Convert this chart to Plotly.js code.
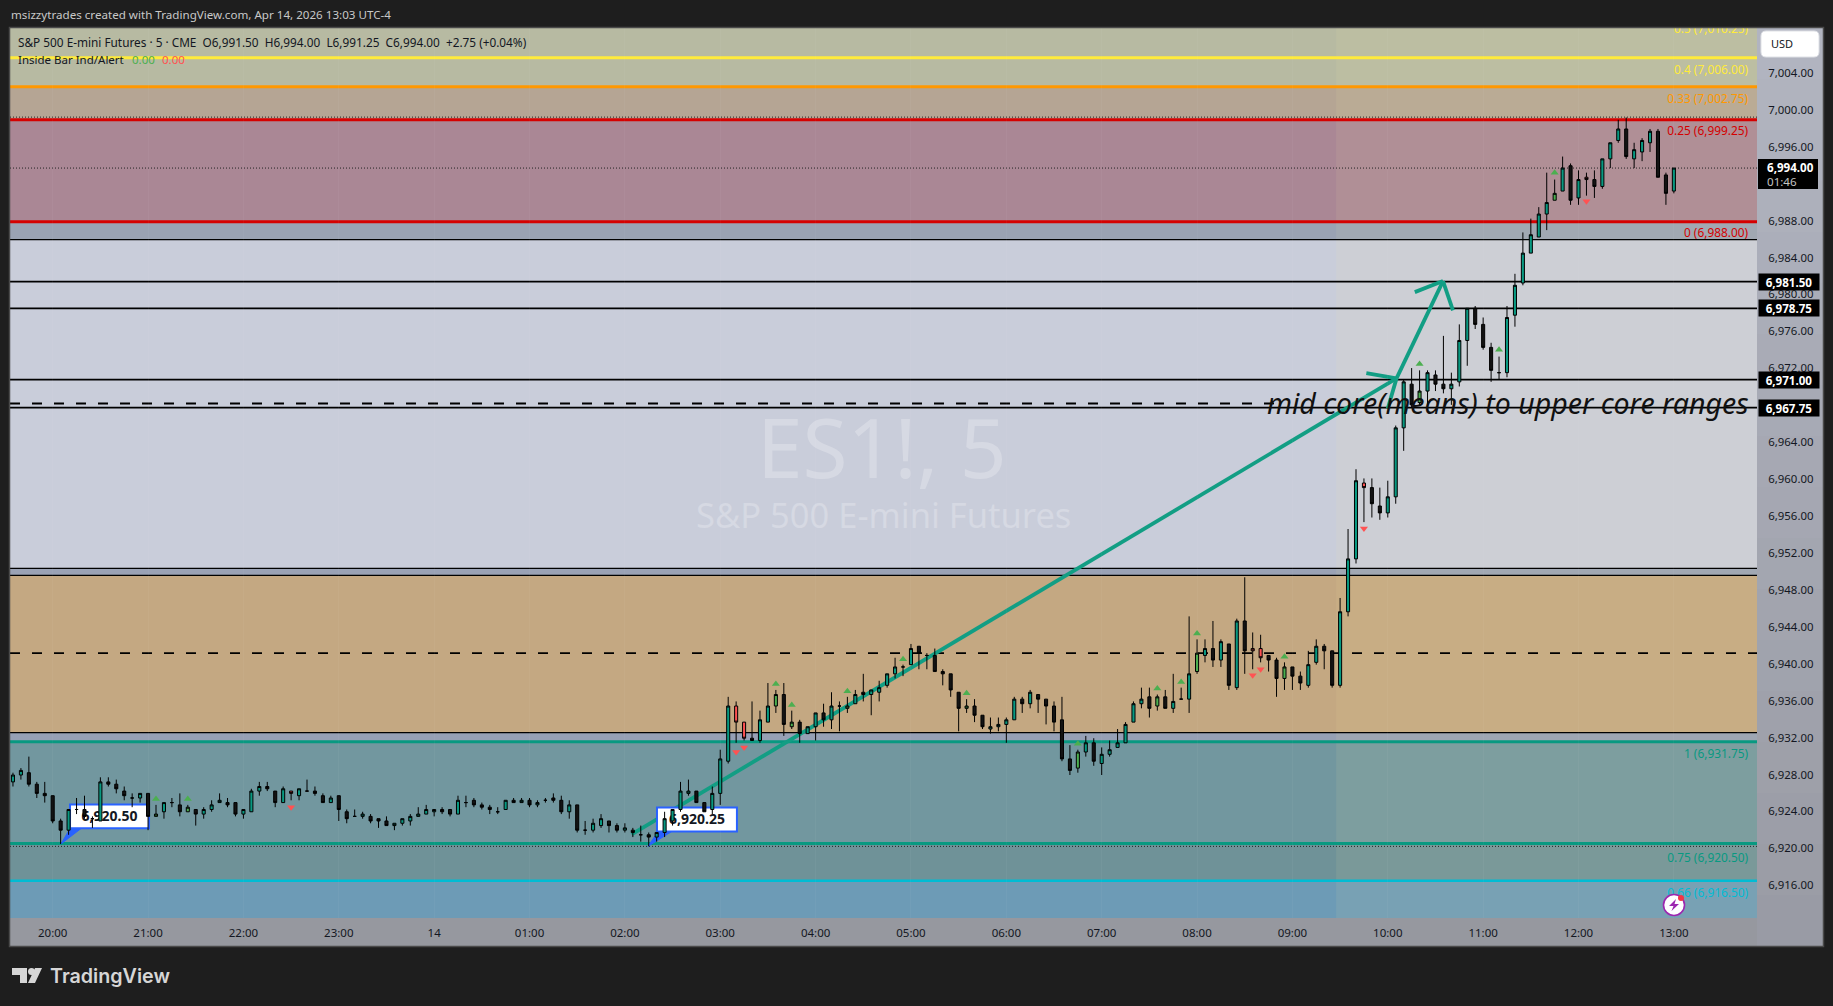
<!DOCTYPE html>
<html><head><meta charset="utf-8">
<script src="https://cdn.plot.ly/plotly-3.0.1.min.js"></script>
<style>html,body{margin:0;padding:0;background:#1e1e1e;overflow:hidden}#c{width:1833px;height:1006px}</style>
</head><body><div id="c"></div>
<script>
const firstBar = -5;
const opens = [
6927.25,6928,6928.25,6927,6926,6925.75,6923,6922,6924.25,6924.25,
6923.25,6923,6927.25,6927,6926.25,6925.5,6925.5,6926,6923.5,6924,
6925,6924.75,6924,6924.25,6923.75,6924.25,6925,6925,6925,6923.75,
6924,6926.25,6926.75,6926.25,6925,6926.25,6925.75,6926.25,6926.25,6925.75,
6925,6925.75,6924,6923.5,6923.5,6923.5,6923.25,6923,6922.5,6922.75,
6923,6923.5,6923.75,6924,6924.25,6924.25,6923.75,6925,6925.25,6924.75,
6924.5,6924,6924.25,6925.25,6925,6925.25,6924.75,6925.25,6925.5,6925.25,
6924,6924.75,6922,6922,6922.5,6923,6922.5,6922,6922,6921.5,
6921.5,6921.25,6921.75,6923,6924.25,6926,6926.25,6925,6924.25,6926,
6929.5,6935.5,6933.75,6932,6931.75,6933.75,6935.5,6936.75,6933.25,6933.75,
6932.5,6933.25,6934.75,6934,6935.5,6935.25,6935.75,6937,6936.75,6937,
6937.75,6939,6939.75,6940,6942,6941,6941,6939.25,6939,6937,
6935.25,6935.5,6934.5,6933,6933.25,6933.5,6934,6936.25,6935.75,6936.75,
6936.25,6935.5,6934,6929.75,6928.75,6930.5,6931.5,6929.25,6930.25,6931,
6931.5,6933.75,6935.75,6936.5,6935.5,6936.5,6935.25,6936.25,6936.25,6939.25,
6941,6941.75,6940.5,6942.25,6937.5,6944.75,6941.75,6941.75,6941,6940.5,
6938.5,6939.75,6938.75,6937.75,6940.25,6942,6941.5,6937.75,6945.75,6951.5,
6959.75,6959.25,6957.25,6956.5,6958.25,6965.75,6970.5,6968.5,6969.75,6971.5,
6970.5,6970,6970.75,6975.25,6978.75,6977,6974.5,6971.75,6971.75,6978,
6981.5,6984.75,6986.5,6989,6990.5,6991.5,6994.25,6990.75,6993,6992.75,
6992,6995,6997,6998.25,6995,6995.75,6996.75,6998,6993.25,6991.5];
const highs = [
6928.25,6928.75,6930,6927.25,6927.25,6925.75,6923.25,6924.25,6925.5,6925.75,
6923.5,6927.75,6927.75,6927.5,6926.75,6926,6926,6926,6924.75,6925,
6925.5,6926,6924.75,6924.25,6924.5,6925.25,6926,6925.5,6925,6924.25,
6926.5,6927.25,6927.25,6926.25,6926.75,6926.25,6926.5,6927.5,6926.75,6926,
6925.75,6925.75,6924.25,6924.25,6924,6923.75,6923.25,6923.5,6922.75,6923.25,
6923.75,6924.5,6924.75,6924.25,6924.5,6924.25,6925.75,6925.75,6925.5,6925,
6924.75,6924.5,6925.25,6925.5,6925.5,6925.5,6925.25,6925.5,6926,6925.75,
6925.25,6924.75,6923,6923.25,6923.75,6923,6922.75,6922.75,6922.25,6922.5,
6921.75,6921.75,6924,6924.25,6927.25,6927.5,6926.25,6925,6926.75,6930.75,
6936.5,6936,6933.75,6936,6935,6938,6937.25,6938,6935,6934,
6933.25,6934.75,6935.75,6937,6936,6936.5,6937.25,6939,6937.25,6938.25,
6939,6940.75,6940,6942.25,6942,6941.25,6941.75,6939.5,6939,6937,
6936.25,6936.25,6934.5,6934.25,6934.25,6934.25,6936.5,6936.5,6937.25,6936.75,
6936.25,6936,6936.5,6931.25,6930.75,6932.25,6932,6931,6931.75,6933,
6933.75,6936,6937.5,6937.5,6936.75,6937.25,6939,6937.5,6945.25,6942.75,
6942.75,6944.75,6942.75,6942.25,6945,6949.5,6943.5,6943.25,6941,6940.75,
6940.25,6939.75,6939.25,6941.5,6942.75,6942.25,6941.5,6947.25,6954.75,6961.25,
6960.25,6960.25,6959.25,6960,6966,6971,6972.25,6972,6972,6972,
6975.75,6971.75,6977,6978.75,6979,6977.75,6975,6973.5,6979,6982.5,
6987,6988.5,6989.75,6993.5,6992.75,6995.25,6994.5,6993.75,6993.5,6993.75,
6995,6996.75,6999.25,6999.5,6996.75,6997.25,6998.25,6998.25,6993.5,6994];
const lows = [
6926.75,6927.5,6926.75,6925.5,6925,6922.75,6920.5,6921.5,6923.75,6923.25,
6922.25,6923,6926.75,6926,6925.25,6924.5,6925,6922,6923.5,6923.25,
6924.5,6923.5,6924,6922.5,6923.25,6924,6925,6924.5,6923.5,6923.25,
6924,6925.75,6926.25,6924.5,6925,6925.25,6925.25,6926.25,6925.75,6925,
6925,6923,6922.75,6923.5,6923.25,6922.75,6922.25,6922.5,6922,6922.5,
6922.5,6923.5,6923.75,6923.5,6923.75,6923.5,6923.75,6924.5,6924.5,6924.25,
6923.75,6923.75,6924.25,6925,6925,6924.5,6924.5,6925,6925,6923.75,
6923.25,6921.75,6921.5,6921.75,6922.25,6921.75,6921.75,6921.75,6921.25,6920.75,
6920.25,6920.75,6921.25,6922.5,6924,6925.75,6925,6924,6923.75,6924.75,
6929.25,6931.5,6931.75,6931.75,6931.5,6933.75,6934.75,6932.25,6933,6931.5,
6932.5,6931.75,6933.25,6933,6932.75,6934.75,6935.75,6936,6934.5,6936,
6937.5,6938.5,6938.75,6940,6939.5,6939.5,6939.25,6937.75,6936.5,6932.75,
6934.75,6933.75,6933,6932.5,6932.75,6931.5,6934,6934.75,6935.25,6934.75,
6933.5,6932.75,6929.5,6928,6928.25,6930,6929,6928,6930,6931,
6931.5,6933.75,6935.25,6934.25,6935,6935.25,6934.75,6936.25,6934.75,6939,
6940.25,6939.75,6939.75,6937.25,6937.25,6939,6939.5,6940.25,6939.25,6936.5,
6937.25,6937.25,6937.25,6937.5,6940,6939.5,6937.5,6937.5,6945.25,6951,
6955.5,6956,6955.75,6956,6957.5,6963.25,6968,6968.25,6968.25,6969.75,
6969.5,6968.25,6970.25,6972.5,6976.5,6974.25,6970.75,6971,6971.25,6976.75,
6981.25,6984.75,6986.5,6987.25,6990.5,6991.5,6990,6990,6991,6990.75,
6991.75,6994,6996.75,6995,6994,6994.75,6995.75,6993,6990,6991.25];
const closes = [
6928,6928.5,6927,6926,6925.75,6923,6922,6924.25,6924.25,6923.5,
6923.25,6927.25,6927,6926.5,6925.75,6925.5,6926,6923.5,6923.75,6925,
6925,6924,6924.5,6923.75,6924.25,6924.75,6925.25,6924.75,6923.75,6924.25,
6926.25,6926.75,6926.5,6925,6926.5,6926,6926.5,6926.25,6926,6925,
6925.5,6924.25,6923.25,6923.5,6923.75,6923,6923,6922.5,6922.75,6923.25,
6923.5,6923.75,6924.25,6924.25,6924,6923.75,6925.25,6925,6924.75,6924.5,
6924.25,6924,6925.25,6925,6925.25,6924.75,6925,6925.25,6925.25,6924,
6924.75,6922,6922,6922.75,6923.25,6922.5,6922,6922.25,6921.75,6921.5,
6921.25,6921.75,6923.25,6924.25,6926.25,6926.25,6925,6924,6926,6929.75,
6935.5,6933.75,6932,6931.75,6934,6935.5,6936.75,6933.5,6933.75,6932.5,
6933.25,6934.75,6934,6935.5,6935.5,6935.5,6936.75,6936.75,6937.25,6937.5,
6939,6939.75,6939.75,6941.75,6941.25,6941,6939.25,6939,6937.25,6935.25,
6935.5,6934.5,6933.25,6933.25,6933.5,6934,6936.25,6935.75,6937,6936.25,
6935.5,6933.75,6929.75,6928.5,6930.5,6931.5,6929.5,6930.25,6930.75,6931.5,
6933.5,6935.75,6936.25,6935.25,6936.5,6935.25,6936,6936.25,6939,6941.25,
6941.75,6940.5,6942.5,6937.75,6944.75,6941.5,6941.5,6940.75,6940.5,6938.5,
6939.75,6938.75,6938,6940,6942,6941.5,6937.75,6945.75,6951.5,6960,
6959.25,6957.5,6956.5,6958.25,6965.75,6970.75,6968.25,6969.75,6971.75,6970.5,
6970,6970.5,6975.25,6978.75,6977,6974.5,6972,6971.75,6977.75,6981.25,
6984.75,6986.75,6989,6990.25,6991.25,6994,6990.5,6992.75,6992.75,6992,
6995,6996.75,6998.25,6995.25,6996,6997,6998,6993,6991.25,6994];
const insideUpBars = [13,17,91,93,100,115,129,139,144,155,172,189];
const insideDownBars = [30,86,87,151,152,165,193];
const signalUpBars = [13,17,91,93,100,107,115,129,139,142,144,155,172,182,189];
const signalUpPrices = [6925.4,6925.4,6937.9,6935.6,6937.1,6940.6,6936.9,6931.4,6937.4,6938.1,6943.4,6940.85,6972.7,6974.25,6993.5];
const signalDownBars = [30,86,87,151,152,165,193];
const signalDownPrices = [6924.5,6930.5,6931,6938.85,6939.5,6954.8,6990.4];

const xTickBars = [0,12,24,36,48,60,72,84,96,108,120,132,144,156,168,180,192,204];
const xTickLabels = ['20:00','21:00','22:00','23:00','14','01:00','02:00','03:00','04:00','05:00','06:00','07:00','08:00','09:00','10:00','11:00','12:00','13:00'];
const yTicks = [6916,6920,6924,6928,6932,6936,6940,6944,6948,6952,6956,6960,6964,6968,6972,6976,6980,6984,6988,6992,6996,7000,7004];

const fibLabels = ['0.5 (7,010.25)','0.4 (7,006.00)','0.33 (7,002.75)','0.25 (6,999.25)','0 (6,988.00)','1 (6,931.75)','0.75 (6,920.50)','0.66 (6,916.50)'];
const fibLabelPrices = [7009.05,7004.6,7001.45,6997.87,6986.78,6930.2,6918.85,6915.1];
const fibLabelColors = ['#ffeb3b','#ffeb3b','#ff9800','#d50000','#d50000','#089981','#089981','#00bcd4'];

const arrowBars = [72.85,169.1,174.95];
const arrowPrices = [6921.54,6971.13,6981.71];
const headBars = [165.3,168.0,171.4,176.2];
const headPrices = [6971.7,6967.86,6980.51,6978.52];

const badgeLabels = ['6,981.50','6,978.75','6,971.00','6,967.75'];
const badgePrices = [6981.65,6978.75,6971,6967.95];

const X0=-5.373, X1=214.46, Y0=6912.45, Y1=7009.23;
const FONT='"Noto Sans", sans-serif';
const W=1833,H=1006,L=10,R=1757,T=28,B=918,FB=946;
const px=x=>(x-L)/(R-L), py=y=>1-(y-T)/(B-T);

const shapes=[];
function band(p0,p1,color){shapes.push({type:'rect',xref:'x',yref:'y',x0:X0,x1:X1,y0:p0,y1:p1,fillcolor:color,line:{width:0},layer:'below'});}
function level(p,color,w,dash,x1){shapes.push({type:'line',xref:'x',yref:'y',x0:X0,x1:x1===undefined?X1:x1,y0:p,y1:p,line:{color:color,width:w,dash:dash||'solid'},layer:'below'});}
function seg(a,b,c,d,color,w){shapes.push({type:'line',xref:'x',yref:'y',x0:a,y0:b,x1:c,y1:d,line:{color:color,width:w},layer:'below'});}

// zones
band(7002.8,Y1,'#b7baa2');
band(6999.25,7002.8,'#b5a594');
band(6988.15,6999.25,'#aa8795');
band(6986.2,6988.15,'#9aa2b3');
band(6950.47,6986.2,'#c9cdda');
band(6949.7,6950.47,'#9aa2b5');
band(6932.6,6949.7,'#c4a882');
band(6931.6,6932.6,'#96a0b5');
band(6920.55,6931.6,'#72979f');
band(6916.5,6920.55,'#6f9298');
band(Y0,6916.5,'#6d9bb6');
// session shading
shapes.push({type:'rect',xref:'x',yref:'y',x0:161.5,x1:X1,y0:Y0,y1:Y1,fillcolor:'rgba(255,240,170,0.08)',line:{width:0},layer:'below'});
// fib lines
level(7006,'#ffeb3b',3);
level(7002.85,'#ff9800',3);
level(6999.25,'#d50000',3);
level(6988.15,'#d50000',3);
level(6931.62,'#089981',3);
level(6920.55,'#089981',3);
level(6916.5,'#00bcd4',2.5);
// black levels
level(6986.21,'#000',1.2);
badgePrices.forEach(p=>level(p,'#000',1.8));
level(6968.4,'#000',1.8,'10px,12px',155);
level(6950.47,'#000',1.2);
level(6949.7,'#000',1.2);
level(6941.25,'#000',1.8,'10px,12px');
level(6932.6,'#000',1.2);
// dotted
level(6999.54,'#222',1,'1px,2px');
level(6994,'#222',1,'1px,2px');
level(6920.24,'#222',1,'1px,2px');
// arrows
const AW=3.8;
seg(arrowBars[0],arrowPrices[0],arrowBars[1],arrowPrices[1],'#129e84',AW);
seg(arrowBars[1],arrowPrices[1],arrowBars[2],arrowPrices[2],'#129e84',AW);
seg(headBars[0],headPrices[0],arrowBars[1],arrowPrices[1],'#129e84',AW);
seg(headBars[1],headPrices[1],arrowBars[1],arrowPrices[1],'#129e84',AW);
seg(headBars[2],headPrices[2],arrowBars[2],arrowPrices[2],'#129e84',AW);
seg(headBars[3],headPrices[3],arrowBars[2],arrowPrices[2],'#129e84',AW);
// callouts
function callout(a,b,top,bot,tipX,tipY,baseA,baseB,txt){
  shapes.push({type:'path',xref:'x',yref:'y',layer:'below',path:`M${baseA},${bot} L${tipX},${tipY} L${baseB},${bot} Z`,fillcolor:'#2962ff',line:{color:'#2962ff',width:1}});
  shapes.push({type:'rect',xref:'x',yref:'y',layer:'below',x0:a,x1:b,y0:bot,y1:top,fillcolor:'#fff',line:{color:'#2962ff',width:2},
    label:{text:txt,font:{family:FONT,size:14,color:'#131722',weight:700},textposition:'middle center'}});
}
callout(2.18,12.12,6924.8,6922.2,1.04,6920.5,2.2,3.6,'<b>6,920.50</b>');
callout(76.04,86.1,6924.47,6921.86,74.9,6920.24,76.2,77.9,'<b>6,920.25</b>');

// axis strips (paper coords, beneath everything)
const mix=(a,b,t)=>Math.round(a+(b-a)*t);
for(let k=0;k<18;k++){
  const t=k/18, y0=T+(FB-T)*k/18, y1=T+(FB-T)*(k+1)/18+1;
  shapes.push({type:'rect',xref:'paper',yref:'paper',x0:px(R),x1:px(1823),y0:py(y1),y1:py(y0),fillcolor:`rgb(${mix(177,152,t)},${mix(180,154,t)},${mix(192,163,t)})`,line:{width:0},layer:'below'});
}
shapes.push({type:'rect',xref:'paper',yref:'paper',x0:px(L),x1:px(R),y0:py(FB),y1:py(B),fillcolor:'#96989f',line:{width:0},layer:'below'});
// frame
shapes.push({type:'rect',xref:'paper',yref:'paper',x0:px(9.5),x1:px(1823.5),y0:py(FB+0.5),y1:py(27.5),line:{color:'#4a4a4a',width:1.5},fillcolor:'rgba(0,0,0,0)',layer:'above'});
// USD button
(function(){const a=px(1761),b=px(1819),r=px(1761+5)-px(1761),t=py(31),u=py(57),s=py(31)-py(36);
shapes.push({type:'path',xref:'paper',yref:'paper',layer:'above',fillcolor:'#fff',line:{color:'#dfe1e6',width:1},
 path:`M${a+r},${t} L${b-r},${t} Q${b},${t} ${b},${t-s} L${b},${u+s} Q${b},${u} ${b-r},${u} L${a+r},${u} Q${a},${u} ${a},${u+s} L${a},${t-s} Q${a},${t} ${a+r},${t} Z`});})();
// last-price badge
shapes.push({type:'rect',xref:'paper',yref:'paper',layer:'above',x0:px(1758),x1:px(1818),y0:py(189),y1:py(159),fillcolor:'#000',line:{width:0}});
// lightning icon
function circ(cx,cy,r,fill,lc,lw){shapes.push({type:'circle',xref:'paper',yref:'paper',layer:'above',x0:px(cx-r),x1:px(cx+r),y0:py(cy+r),y1:py(cy-r),fillcolor:fill,line:{color:lc,width:lw}});}
circ(1674,905,10.5,'#fff','#9c27b0',1.6);
function poly(pts,fill){shapes.push({type:'path',xref:'paper',yref:'paper',layer:'above',fillcolor:fill,line:{width:0},path:'M'+pts.map(q=>px(q[0])+','+py(q[1])).join(' L')+' Z'});}
poly([[1676,899],[1669,906],[1673.5,906],[1671.5,911],[1679,904],[1674.5,904]],'#9c27b0');
circ(1681,898,3,'#f23645','#f23645',0);
// TradingView logo
poly([[12,968],[27,968],[27,983],[20,983],[20,975],[12,975]],'#d6d6d6');
circ(31.5,971.5,3.5,'#d6d6d6','#d6d6d6',0);
poly([[35,968],[42,968],[35,983],[28,983]],'#d6d6d6');

function note(x,y,text,size,color,anchor,extra){return Object.assign({xref:'paper',yref:'paper',x:px(x),y:py(y),text:text,showarrow:false,xanchor:anchor||'left',yanchor:'middle',font:{family:FONT,size:size,color:color},borderpad:0},extra||{});}
const annotations=[
 note(10,14,'msizzytrades created with TradingView.com, Apr 14, 2026 13:03 UTC-4',11.62,'#c8c8c8'),
 note(16.8,41.5,'S&P 500 E-mini Futures · 5 · CME&nbsp;&nbsp;O6,991.50&nbsp;&nbsp;H6,994.00&nbsp;&nbsp;L6,991.25&nbsp;&nbsp;C6,994.00&nbsp;&nbsp;+2.75 (+0.04%)',11.8,'#131722'),
 note(16.8,59,'Inside Bar Ind/Alert',11.5,'#131722'),
 note(131,59,'0.00',11.5,'#4caf50'),
 note(161,59,'0.00',11.5,'#ff5252'),
 note(1770,44,'USD',11,'#131722'),
 note(882,446,'ES1!, 5',82,'rgba(255,255,255,0.25)','center'),
 note(883,514,'S&P 500 E-mini Futures',34.5,'rgba(255,255,255,0.25)','center'),
 note(1750,403,'<i>mid core(means) to upper core ranges</i>',28.5,'#111','right'),
 note(49,976,'TradingView',19.7,'#d6d6d6','left',{font:{family:'Inter, sans-serif',size:19.7,color:'#d6d6d6',weight:600}}),
 note(1766,167,'<b>6,994.00</b>',11.6,'#fff'),
 note(1766,181,'01:46',11.6,'#c4c4c4')
];
badgeLabels.forEach((t,k)=>annotations.push({xref:'paper',yref:'y',x:px(1758),xanchor:'left',y:badgePrices[k],yanchor:'middle',text:'<b>'+t+'</b>',showarrow:false,bgcolor:'#000',width:60,height:16,borderpad:0,font:{family:FONT,size:11.6,color:'#fff'},align:'center'}));

const allBars=opens.map((_,k)=>k+firstBar);
function pick(list,arr){return list.map(b=>arr[b-firstBar]);}
const plainBars=allBars.filter(b=>!insideUpBars.includes(b)&&!insideDownBars.includes(b));
function candle(bars,up,down){return {type:'candlestick',x:bars,open:pick(bars,opens),high:pick(bars,highs),low:pick(bars,lows),close:pick(bars,closes),
  increasing:{line:{color:'#000',width:1},fillcolor:up},decreasing:{line:{color:'#000',width:1},fillcolor:down},whiskerwidth:0,hoverinfo:'skip',showlegend:false};}
const traces=[
 candle(plainBars,'#089981','#131313'),
 candle(insideUpBars,'#4caf50','#4caf50'),
 candle(insideDownBars,'#ff5252','#ff5252'),
 {type:'scatter',mode:'markers',x:signalUpBars,y:signalUpPrices,marker:{symbol:'triangle-up',size:7,color:'#4caf50'},hoverinfo:'skip',showlegend:false},
 {type:'scatter',mode:'markers',x:signalDownBars,y:signalDownPrices,marker:{symbol:'triangle-down',size:7,color:'#ff5252'},hoverinfo:'skip',showlegend:false},
 {type:'scatter',mode:'text',x:fibLabels.map(()=>213.35),y:fibLabelPrices,text:fibLabels,textposition:'middle left',textfont:{family:FONT,size:11.9,color:fibLabelColors},hoverinfo:'skip',showlegend:false,cliponaxis:true}
];
const layout={width:W,height:H,paper_bgcolor:'#1e1e1e',plot_bgcolor:'#c9cdda',showlegend:false,boxgap:0.45,
 margin:{l:L,r:W-R,t:T,b:H-B,pad:0},
 xaxis:{type:'linear',range:[X0,X1],tickmode:'array',tickvals:xTickBars,ticktext:xTickLabels,rangeslider:{visible:false},
  tickfont:{family:FONT,size:11.5,color:'#131722'},ticks:'outside',ticklen:4,tickcolor:'rgba(0,0,0,0)',showgrid:true,gridcolor:'rgba(255,255,255,0.04)',zeroline:false,showline:false,fixedrange:true},
 yaxis:{type:'linear',side:'right',range:[Y0,Y1],tickmode:'array',
  // the reference's price labels sit a touch wider apart than its marks; keep the labels where it shows them
  tickvals:yTicks.map(v=>v+(v-6916)*0.004),ticktext:yTicks.map(v=>v.toLocaleString('en-US',{minimumFractionDigits:2})),
  tickfont:{family:FONT,size:11.4,color:'#131722'},ticks:'outside',ticklen:8,tickcolor:'rgba(0,0,0,0)',showgrid:false,zeroline:false,showline:false,fixedrange:true},
 shapes:shapes,annotations:annotations};
Plotly.newPlot('c',traces,layout,{displayModeBar:false,staticPlot:true});
</script></body></html>
